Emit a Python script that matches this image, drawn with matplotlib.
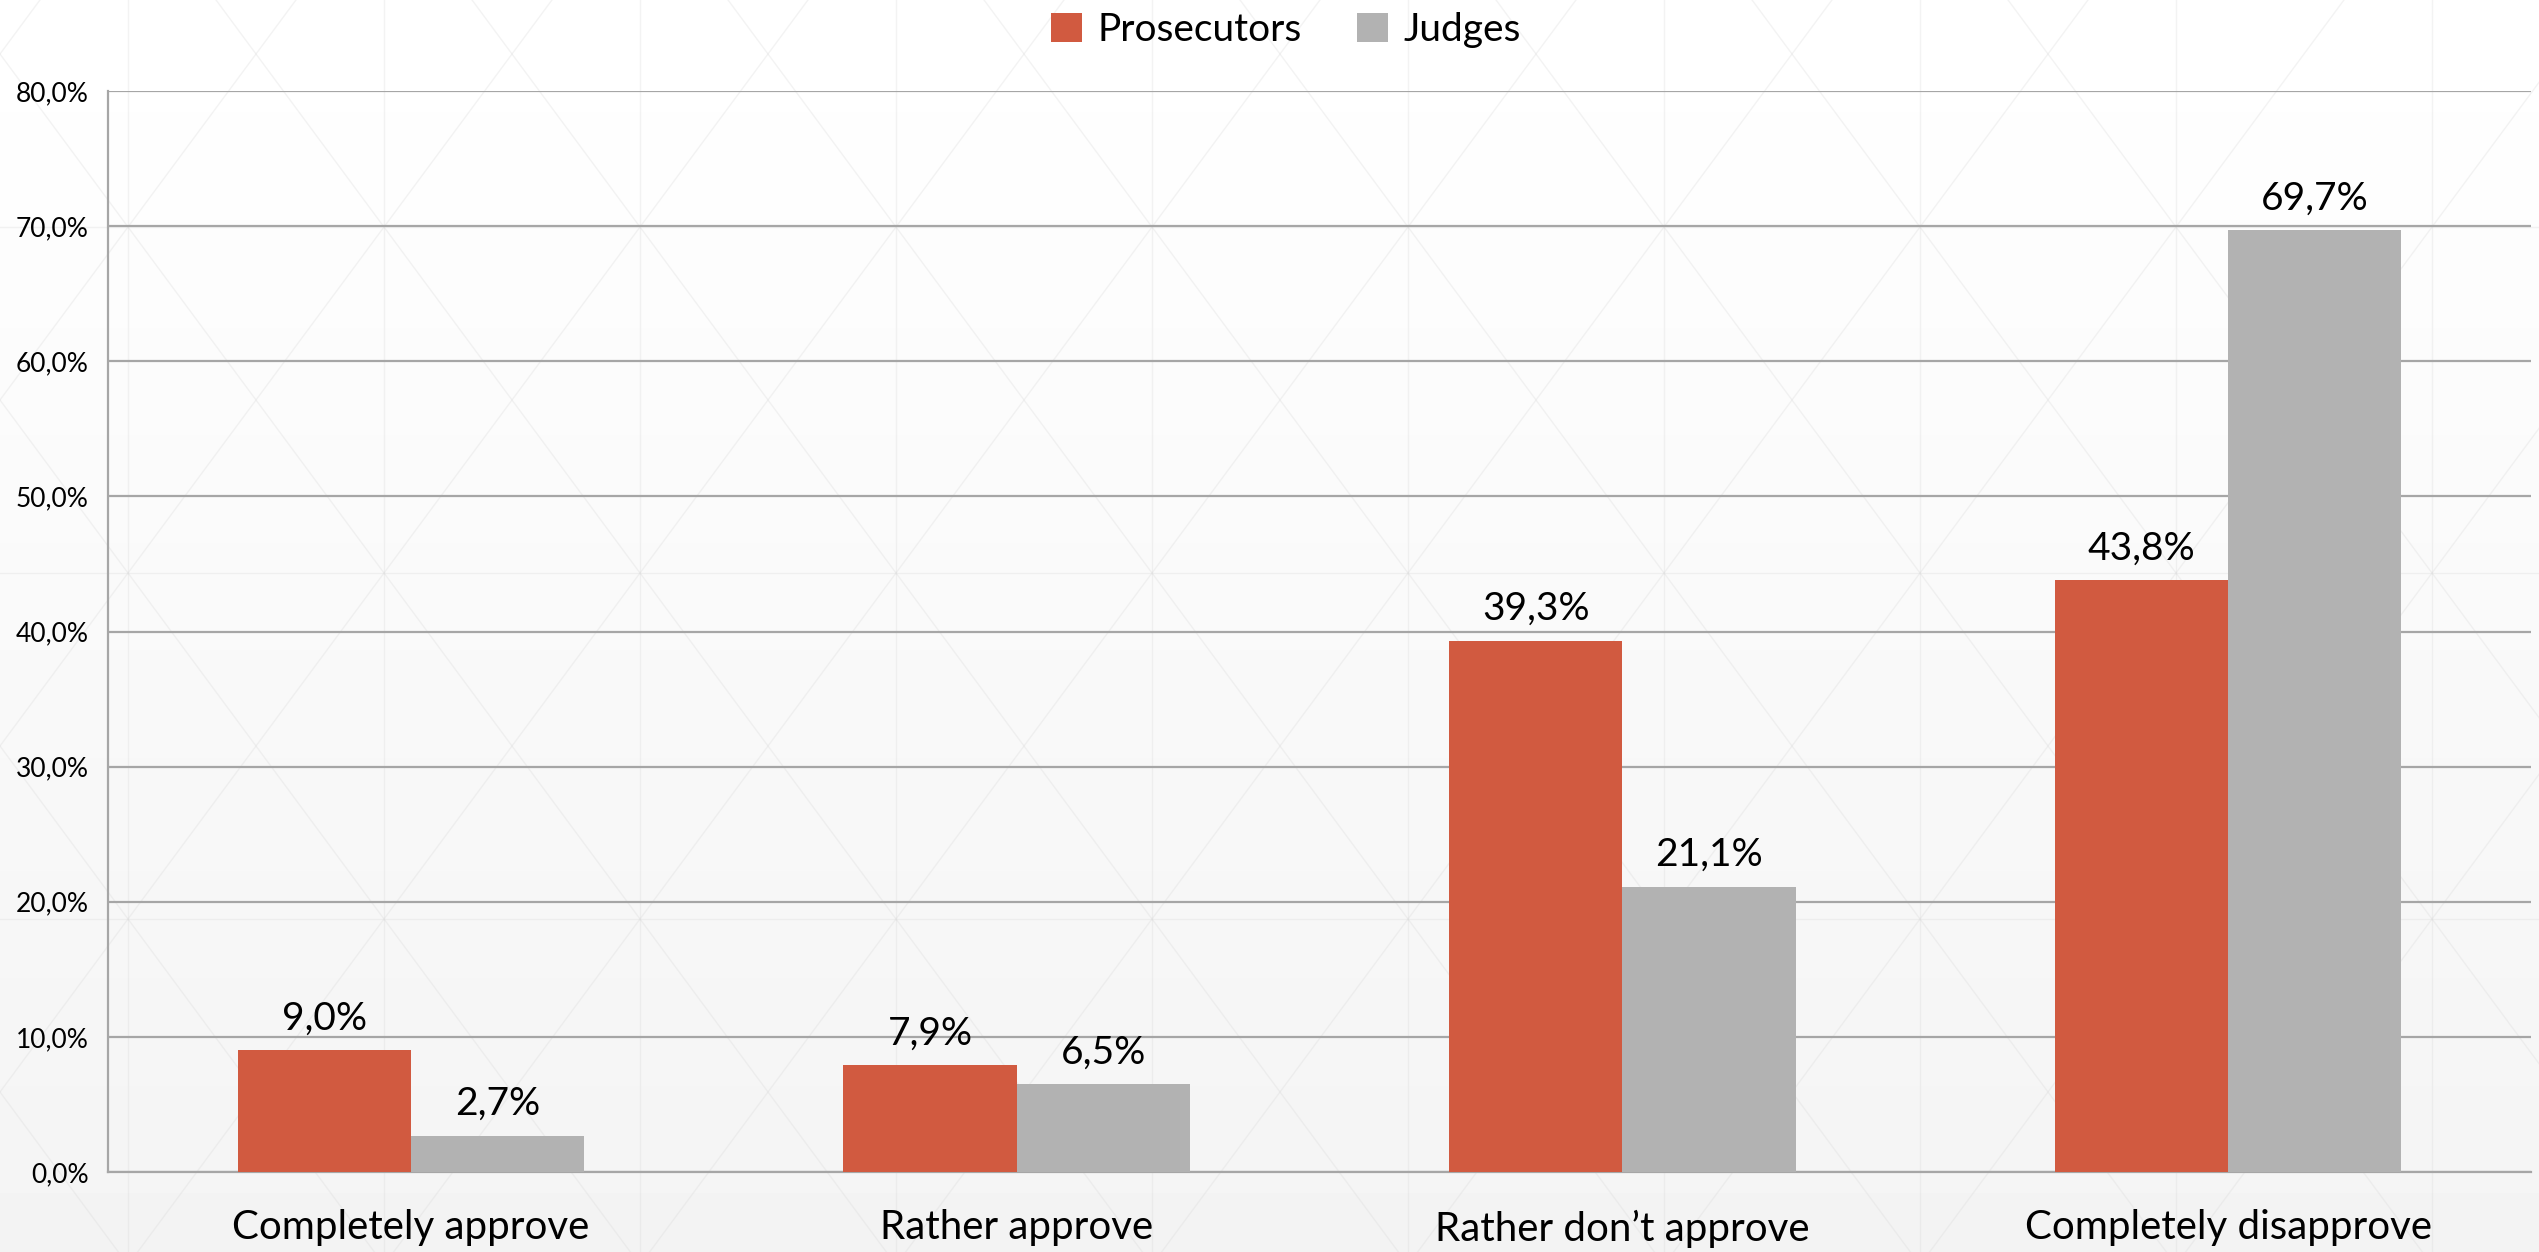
import matplotlib
matplotlib.use('Agg')
import matplotlib.pyplot as plt
import numpy as np

# Data
categories = ['Completely approve', 'Rather approve', 'Rather don\u2019t approve', 'Completely disapprove']
prosecutors = [9.0, 7.9, 39.3, 43.8]
judges = [2.7, 6.5, 21.1, 69.7]
series_names = ['Prosecutors', 'Judges']
yticks = [0, 10, 20, 30, 40, 50, 60, 70, 80]

colors = ['#D15A40', '#B2B2B2']
plt.rcParams['font.family'] = ['Lato', 'DejaVu Sans']

W, H = 2539, 1252
fig = plt.figure(figsize=(W / 100, H / 100), dpi=100)

# light gradient background with faint triangle pattern (pixel coords, y down)
bg = fig.add_axes([0, 0, 1, 1], zorder=-10)
grad = np.linspace(1.0, 0.955, 256).reshape(-1, 1)
bg.imshow(grad, aspect='auto', cmap='gray', vmin=0, vmax=1, extent=[0, W, H, 0])
pat = dict(color='#d8d8d8', lw=1.0, alpha=0.3)
for xv in np.arange(128, W, 256):
    bg.axvline(xv, **pat)
for yv in np.arange(227, H, 346):
    bg.axhline(yv, **pat)
slope = 346 / 256
xs = np.array([0, W])
for c in np.arange(54 - 346 * 8, H + 346 * 9, 346):
    bg.plot(xs, slope * xs + c, **pat)
    bg.plot(xs, -slope * xs + c, **pat)
bg.set_xlim(0, W)
bg.set_ylim(H, 0)
bg.axis('off')

left, right, top, bottom = 108, 2531, 91, 1172
ax = fig.add_axes([left / W, 1 - bottom / H, (right - left) / W, (bottom - top) / H])
ax.patch.set_alpha(0)

x = np.arange(len(categories))
bw = 0.286
b1 = ax.bar(x - bw / 2, prosecutors, bw, color=colors[0], label=series_names[0], zorder=3)
b2 = ax.bar(x + bw / 2, judges, bw, color=colors[1], label=series_names[1], zorder=3)

for bars in (b1, b2):
    for r in bars:
        v = r.get_height()
        ax.annotate(f'{v:.1f}%'.replace('.', ','), (r.get_x() + r.get_width() / 2, v),
                    xytext=(0, 10), textcoords='offset points', ha='center', va='bottom',
                    fontsize=28, color='black')

ax.set_xlim(-0.5, len(categories) - 0.5)
ax.set_ylim(0, 80)
ax.set_yticks(yticks)
ax.set_yticklabels([f'{t:.1f}%'.replace('.', ',') for t in yticks], fontsize=19)
ax.set_xticks(x)
ax.set_xticklabels(categories, fontsize=29)
ax.tick_params(axis='both', length=0)
ax.tick_params(axis='y', pad=14)
ax.tick_params(axis='x', pad=27)
ax.yaxis.grid(True, color='#A6A6A6', linewidth=1.6, zorder=0)
ax.set_axisbelow(True)
for s in ['top', 'right']:
    ax.spines[s].set_visible(False)
for s in ['left', 'bottom']:
    ax.spines[s].set_color('#A6A6A6')
    ax.spines[s].set_linewidth(1.6)

fig.legend(loc='center', bbox_to_anchor=(1286 / W, 1 - 30 / H), ncol=2, frameon=False,
           fontsize=28, handlelength=0.8, handleheight=0.8, handletextpad=0.4,
           columnspacing=1.4)

plt.savefig('out.png', dpi=100)
